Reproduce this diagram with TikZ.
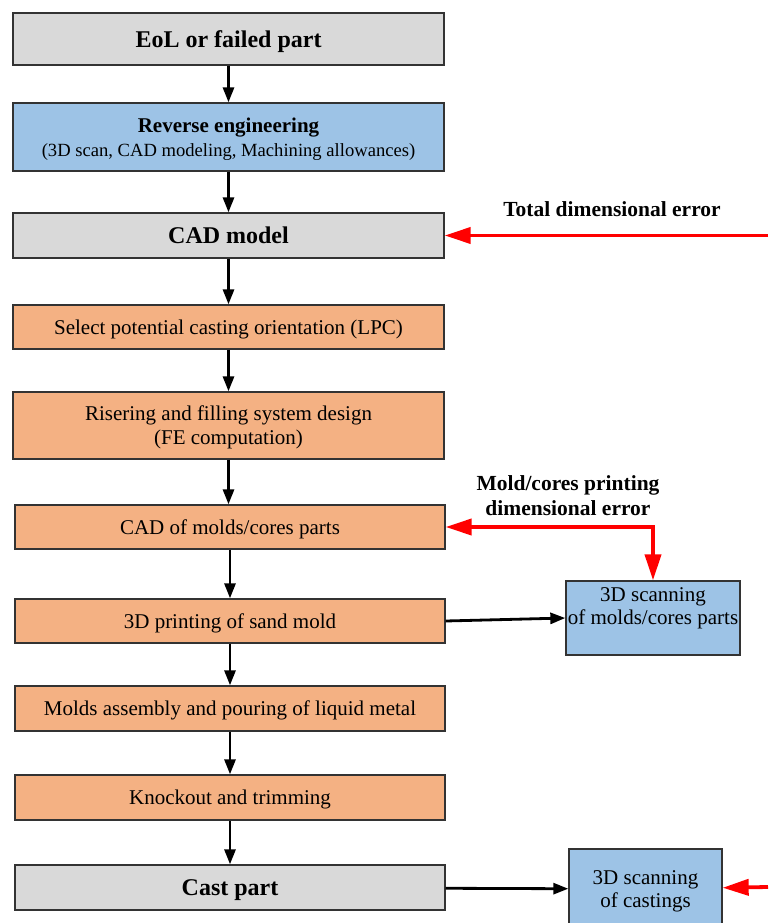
\documentclass[tikz,border=0pt]{standalone}
\usepackage{fontspec}
\setmainfont{Liberation Serif}
\usetikzlibrary{arrows.meta}
\definecolor{boxgray}{HTML}{D9D9D9}
\definecolor{boxblue}{HTML}{9DC3E6}
\definecolor{boxorange}{HTML}{F4B183}
\definecolor{boxline}{HTML}{333333}
\begin{document}
\begin{tikzpicture}[x=1pt, y=-1pt,
  stage/.style={shape=rectangle, draw=boxline, line width=1.3pt, minimum width=431pt, inner sep=0pt, align=center, text depth=0pt, font=\fontsize{21}{24}\selectfont},
  title/.style={font=\bfseries\fontsize{24}{28}\selectfont},
  scanbox/.style={shape=rectangle, draw=boxline, line width=1.3pt, fill=boxblue, inner sep=0pt, align=center, text depth=0pt, font=\fontsize{21}{23.5}\selectfont},
  flow/.style={-{Triangle[length=15pt, width=11pt]}, line width=2.8pt, draw=black},
  feedback/.style={line width=3.8pt, draw=red},
  redtip/.tip={Triangle[length=26pt, width=16pt]},
  errlabel/.style={font=\bfseries\fontsize{21.5}{25}\selectfont, align=center}]
\useasboundingbox (0,0) rectangle (768,923);
\node[stage, title, fill=boxgray, minimum height=52pt] (eol) at (228.5, 39) {EoL or failed part};
\node[stage, fill=boxblue, minimum height=68pt] (rev) at (228.5, 137) {\textbf{Reverse engineering}\\{\fontsize{18.6}{22}\selectfont(3D scan, CAD modeling, Machining allowances)}};
\node[stage, title, fill=boxgray, minimum height=45pt] (cad) at (228.5, 235.5) {CAD model};
\node[stage, fill=boxorange, minimum height=44pt] (orient) at (228.5, 327) {Select potential casting orientation (LPC)};
\node[stage, fill=boxorange, minimum height=67pt] (riser) at (228.5, 425.5) {Risering and filling system design\\(FE computation)};
\node[stage, fill=boxorange, minimum width=430pt, minimum height=44pt] (molds) at (230, 527) {CAD of molds/cores parts};
\node[stage, fill=boxorange, minimum width=430pt, minimum height=44pt] (print) at (230, 621) {3D printing of sand mold};
\node[stage, fill=boxorange, minimum width=430pt, minimum height=45pt] (pour) at (230, 708.5) {Molds assembly and pouring of liquid metal};
\node[stage, fill=boxorange, minimum width=430pt, minimum height=45pt] (knock) at (230, 797.5) {Knockout and trimming};
\node[stage, title, fill=boxgray, minimum width=430pt, minimum height=45pt] (cast) at (230, 887.5) {Cast part};
\node[scanbox, minimum width=174pt, minimum height=74pt] (scanmold) at (653, 618) {3D scanning\\of molds/cores parts\\\mbox{}};
\node[scanbox, minimum width=153pt, minimum height=80pt] (scancast) at (645.5, 889) {3D scanning\\of castings};
\node[errlabel] (toterr) at (612, 209) {Total dimensional error};
\node[errlabel] (molderr) at (568, 495.5) {Mold/cores printing\\dimensional error};
\coordinate (cadin) at (768, 235.5);
\coordinate (castin) at (768, 887);
\draw [flow] (eol) -- (rev);
\draw [flow] (rev) -- (cad);
\draw [flow] (cad) -- (orient);
\draw [flow] (orient) -- (riser);
\draw [flow] (riser.south) -- (molds.north -| riser.south);
\draw [flow] (molds) -- (print);
\draw [flow] (print) -- (pour);
\draw [flow] (pour) -- (knock);
\draw [flow] (knock) -- (cast);
\draw [flow] (print.east) -- (scanmold.west);
\draw [flow] (cast) -- (scancast);
\draw [feedback, -redtip] (cadin) -- (cad);
\draw [feedback, redtip-redtip] (scanmold.north) |- (molds.east);
\draw [feedback, -redtip] (castin) -- (scancast);
\end{tikzpicture}
\end{document}
